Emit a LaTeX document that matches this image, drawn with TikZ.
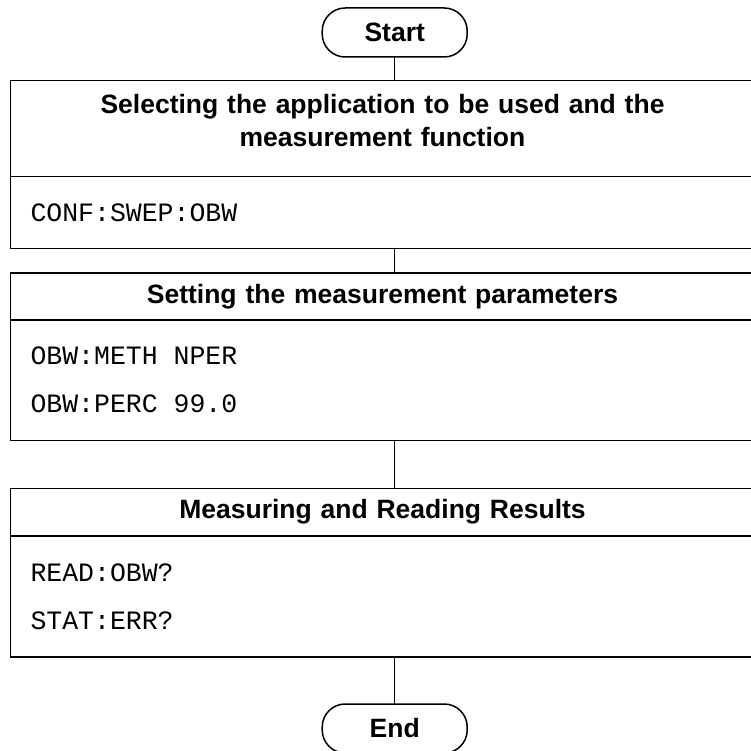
\documentclass[tikz,border=0pt]{standalone}
\usepackage{fontspec}
\setmainfont{Liberation Sans}
\setmonofont{Liberation Mono}
\usetikzlibrary{positioning, calc}

\begin{document}
\begin{tikzpicture}[x=1pt, y=-1pt,
    term/.style={draw, line width=1.5pt, outer sep=0pt, rounded corners=23pt, minimum width=145pt, minimum height=49pt, font=\fontsize{26.5}{32}\selectfont\bfseries},
    head/.style={draw, line width=1.5pt, outer sep=0pt, minimum width=744pt, text width=700pt, align=center, font=\fontsize{26.5}{33}\selectfont\bfseries},
    cmds/.style={draw, line width=1.5pt, outer sep=0pt, minimum width=744pt, text width=704pt, inner xsep=20pt, align=left, font=\ttfamily\fontsize{26.5}{48}\selectfont},
    link/.style={line width=1.5pt}]
    \useasboundingbox (0,0) rectangle (751,751);

    \node[term] (start) at (394.7, 32.5) {Start};

    \node[head, minimum height=96pt, text depth=50pt] (sel) at (382.5, 128.5) {Selecting the application to be used and the\\measurement function};
    \node[cmds, minimum height=72pt, below=0pt of sel] (selcmd) {CONF:SWEP:OBW};

    \node[head, minimum height=47pt] (set) at (382.5, 296.5) {Setting the measurement parameters};
    \node[cmds, minimum height=120.5pt, below=0pt of set] (setcmd) {OBW:METH\hspace{0.6em}NPER\\OBW:PERC\hspace{0.6em}99.0};

    \node[head, minimum height=47.5pt] (meas) at (382.5, 512.2) {Measuring and Reading Results};
    \node[cmds, minimum height=121pt, below=0pt of meas] (meascmd) {READ:OBW?\\STAT:ERR?};

    \node[term] (stop) at (394.7, 728.5) {End};

    \draw[link] (start.south) -- (start.south |- sel.north);
    \draw[link] (start |- selcmd.south) -- (start |- set.north);
    \draw[link] (start |- setcmd.south) -- (start |- meas.north);
    \draw[link] (start |- meascmd.south) -- (stop.north);
\end{tikzpicture}
\end{document}
